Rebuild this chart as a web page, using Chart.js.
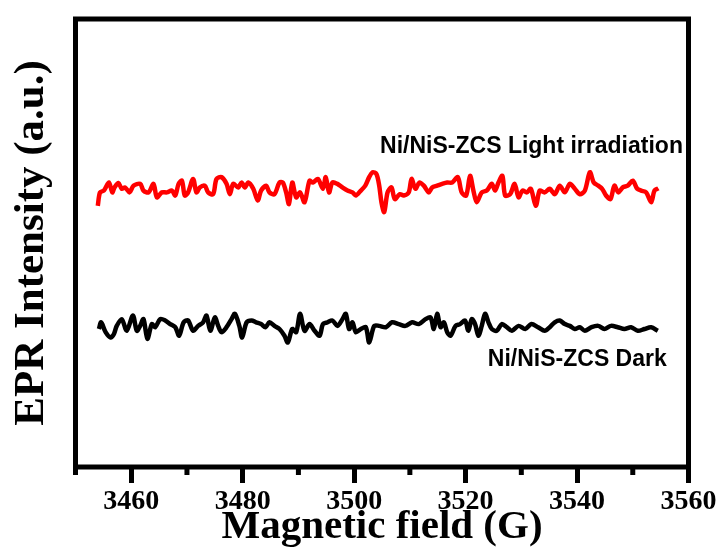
<!DOCTYPE html>
<html>
<head>
<meta charset="utf-8">
<script src="https://cdn.jsdelivr.net/npm/chart.js@4.4.1/dist/chart.umd.min.js"></script>
<style>
  html, body { margin: 0; padding: 0; background: #fff; }
  #wrap { width: 721px; height: 552px; }
</style>
</head>
<body>
<div id="wrap"><canvas id="epr"></canvas></div>
<script>
// x-as (G) en tick labels
const fieldMin = 3450;
const fieldMax = 3560;
const fieldStep = 10;

// rode lijn: Light irradiation
const lightField = [3454.0, 3454.4, 3455.1, 3456.0, 3456.6, 3457.0, 3457.7, 3458.3, 3458.9, 3459.7,
  3460.4, 3461.6, 3462.2, 3463.1, 3464.0, 3464.6, 3465.5, 3466.4, 3467.3, 3467.9,
  3468.5, 3469.1, 3469.6, 3470.2, 3471.1, 3471.7, 3472.3, 3473.2, 3473.8, 3474.7,
  3475.3, 3476.2, 3477.1, 3477.7, 3478.3, 3479.2, 3479.8, 3480.4, 3481.0, 3481.9,
  3482.7, 3483.3, 3484.2, 3484.8, 3485.7, 3486.6, 3487.2, 3487.8, 3488.3, 3488.9,
  3489.6, 3490.3, 3491.1, 3492.0, 3492.6, 3493.5, 3494.4, 3494.9, 3495.5, 3496.1,
  3497.0, 3497.9, 3498.8, 3499.7, 3500.3, 3501.2, 3502.0, 3502.7, 3503.3, 3504.0,
  3504.5, 3504.9, 3505.4, 3506.0, 3506.7, 3507.3, 3508.2, 3508.9, 3509.8, 3510.3,
  3511.0, 3511.7, 3512.5, 3513.4, 3514.0, 3514.9, 3515.8, 3516.7, 3517.6, 3518.6,
  3519.3, 3520.1, 3520.8, 3521.4, 3522.0, 3522.9, 3523.8, 3524.7, 3525.3, 3525.9,
  3526.6, 3527.1, 3528.0, 3528.8, 3529.5, 3530.2, 3531.0, 3531.7, 3532.6, 3533.3,
  3534.2, 3535.1, 3536.0, 3536.9, 3537.8, 3538.7, 3539.6, 3540.5, 3541.4, 3542.3,
  3543.0, 3543.8, 3544.5, 3545.2, 3546.0, 3546.7, 3547.4, 3548.2, 3549.1, 3550.0,
  3550.8, 3551.5, 3552.4, 3553.3, 3553.9, 3554.6];
const lightIntensity = [58.3, 61.3, 61.7, 63.5, 61.3, 62.4, 63.4, 62.1, 62.4, 61.3,
  62.8, 63.2, 61.7, 61.3, 63.2, 60.2, 61.3, 61.3, 61.7, 60.6,
  63.2, 63.9, 60.6, 61.3, 64.3, 61.3, 62.4, 62.8, 61.3, 60.9,
  64.3, 64.7, 63.2, 60.9, 63.2, 62.4, 63.5, 62.4, 63.5, 62.1,
  59.5, 61.7, 62.8, 61.3, 60.9, 63.5, 63.5, 61.3, 58.7, 63.5,
  60.2, 61.3, 59.1, 63.9, 63.5, 64.3, 62.1, 64.7, 61.3, 63.5,
  63.2, 62.4, 61.7, 61.3, 60.6, 61.7, 62.8, 64.7, 65.8, 65.4,
  62.8, 59.1, 56.9, 61.3, 62.4, 59.8, 60.9, 60.6, 61.3, 64.3,
  62.1, 63.5, 62.8, 61.3, 62.4, 62.8, 63.2, 63.5, 63.5, 64.7,
  61.3, 60.6, 65.0, 61.7, 59.1, 61.3, 61.7, 63.2, 61.7, 63.5,
  65.0, 60.6, 60.9, 63.2, 60.2, 61.7, 61.3, 62.1, 58.3, 61.7,
  61.3, 62.1, 60.9, 62.8, 61.3, 63.2, 62.1, 60.9, 61.7, 65.8,
  63.5, 62.8, 62.1, 60.6, 59.8, 62.8, 61.3, 62.4, 62.8, 63.9,
  62.1, 61.7, 61.3, 59.1, 61.7, 62.2];

// zwarte lijn: Dark
const darkField = [3454.2, 3454.6, 3455.4, 3456.3, 3456.9, 3457.4, 3458.3, 3459.2, 3460.3, 3461.0,
  3461.6, 3462.2, 3462.9, 3463.7, 3464.3, 3465.2, 3466.1, 3467.0, 3467.9, 3468.6,
  3469.4, 3470.2, 3471.1, 3472.0, 3472.9, 3473.5, 3474.2, 3475.0, 3475.6, 3476.2,
  3477.1, 3478.0, 3478.6, 3479.4, 3479.9, 3480.7, 3481.6, 3482.4, 3483.3, 3484.1,
  3484.8, 3485.7, 3486.6, 3487.5, 3488.1, 3488.9, 3489.6, 3490.3, 3491.1, 3492.0,
  3492.9, 3493.8, 3494.4, 3495.2, 3496.1, 3497.0, 3497.9, 3498.5, 3499.1, 3499.7,
  3500.3, 3501.2, 3502.1, 3502.7, 3503.6,
  3504.5, 3505.7, 3506.8, 3508.0, 3509.2, 3510.4, 3511.6, 3512.8, 3513.7, 3514.3,
  3514.9, 3515.5, 3516.1, 3516.7, 3517.3, 3518.2, 3519.0, 3519.9, 3520.5, 3521.1,
  3521.7, 3522.3, 3522.9, 3523.5, 3524.1, 3524.7, 3525.6, 3526.5, 3527.4, 3528.3,
  3529.5, 3530.7, 3531.8, 3533.0, 3534.2, 3535.1, 3536.0, 3536.9, 3537.8, 3538.7,
  3539.6, 3540.5, 3541.4, 3542.6, 3543.8, 3544.9, 3546.1, 3547.3, 3548.5, 3549.7,
  3550.9, 3552.1, 3553.3, 3554.5];
const darkIntensity = [30.8, 32.3, 30.1, 28.9, 29.7, 31.5, 33.0, 30.4, 33.8, 30.4,
  31.5, 33.0, 28.6, 31.9, 31.2, 33.0, 32.7, 31.9, 31.2, 29.3,
  32.3, 32.7, 30.4, 31.5, 32.3, 33.8, 30.4, 33.4, 31.5, 30.1,
  31.2, 33.0, 34.2, 31.5, 28.9, 32.3, 32.7, 32.3, 31.9, 31.2,
  32.3, 31.5, 30.8, 29.3, 27.8, 30.8, 30.1, 34.2, 30.4, 31.9,
  30.4, 29.3, 31.9, 32.3, 32.7, 31.5, 33.0, 34.2, 30.8, 32.3,
  30.1, 30.8, 31.2, 27.8, 31.5,
  31.5, 31.2, 32.3, 31.9, 31.5, 32.3, 31.9, 33.0, 33.4, 30.8,
  34.2, 31.2, 32.3, 30.1, 29.3, 31.5, 31.9, 32.7, 30.4, 33.0,
  31.9, 29.3, 31.5, 34.2, 32.3, 30.8, 30.4, 31.9, 31.2, 30.4,
  31.5, 30.8, 31.9, 31.2, 30.4, 31.2, 32.3, 32.7, 31.9, 31.5,
  30.8, 31.2, 30.4, 31.2, 31.5, 30.8, 31.5, 31.2, 30.8, 31.2,
  30.4, 30.8, 31.2, 30.4];

// tekstlabels bij de lijnen (rechts uitgelijnd, in data-eenheden)
const seriesLabels = ['Ni/NiS-ZCS Light irradiation', 'Ni/NiS-ZCS Dark'];
const labelField = [3559.0, 3556.1];
const labelIntensity = [71.4, 23.9];

function toPoints(xs, ys) {
  const pts = [];
  for (let i = 0; i < xs.length; i++) {
    pts.push({ x: xs[i], y: ys[i] });
  }
  return pts;
}

// kader, kleine ticks en de labels
const framePlugin = {
  id: 'frame',
  afterDatasetsDraw(chart) {
    const ctx = chart.ctx;
    const a = chart.chartArea;
    const xs = chart.scales.x;
    const ys = chart.scales.y;
    ctx.save();
    ctx.strokeStyle = '#000';
    ctx.lineWidth = 5;
    ctx.strokeRect(a.left, a.top, a.right - a.left, a.bottom - a.top);
    // kleine ticks op de oneven tientallen
    xs.ticks.forEach(t => {
      if (t.value % 20 !== 0) {
        const px = xs.getPixelForValue(t.value);
        ctx.beginPath();
        ctx.moveTo(px, a.bottom);
        ctx.lineTo(px, a.bottom + 8);
        ctx.stroke();
      }
    });
    ctx.fillStyle = '#000';
    ctx.font = 'bold 23px "Liberation Sans", Arial, sans-serif';
    ctx.textAlign = 'right';
    ctx.textBaseline = 'middle';
    for (let i = 0; i < seriesLabels.length; i++) {
      ctx.fillText(seriesLabels[i], xs.getPixelForValue(labelField[i]), ys.getPixelForValue(labelIntensity[i]));
    }
    ctx.restore();
  }
};

const serif = '"Liberation Serif", "Times New Roman", serif';

new Chart(document.getElementById('epr'), {
  type: 'line',
  data: {
    datasets: [
      {
        label: seriesLabels[0],
        data: toPoints(lightField, lightIntensity),
        borderColor: '#ff0000',
        borderWidth: 4.5,
        pointRadius: 0,
        tension: 0.3
      },
      {
        label: seriesLabels[1],
        data: toPoints(darkField, darkIntensity),
        borderColor: '#000000',
        borderWidth: 4.5,
        pointRadius: 0,
        tension: 0.3
      }
    ]
  },
  options: {
    responsive: true,
    maintainAspectRatio: false,
    animation: false,
    layout: { padding: { left: 0, top: 19, right: 32.5, bottom: 0 } },
    plugins: {
      legend: { display: false },
      tooltip: { enabled: false }
    },
    scales: {
      x: {
        type: 'linear',
        min: fieldMin,
        max: fieldMax,
        border: { display: false },
        grid: {
          drawOnChartArea: false,
          drawTicks: true,
          tickLength: 16,
          tickWidth: 5,
          tickColor: c => (c.tick && c.tick.value % 20 === 0) ? '#000' : 'rgba(0,0,0,0)'
        },
        ticks: {
          stepSize: fieldStep,
          autoSkip: false,
          maxRotation: 0,
          padding: 2,
          color: '#000',
          font: { family: serif, weight: 'bold', size: 28 },
          callback: v => (v % 20 === 0 && v > fieldMin) ? String(v) : ''
        },
        title: {
          display: true,
          text: 'Magnetic field (G)',
          color: '#000',
          font: { family: serif, weight: 'bold', size: 41 },
          padding: { top: 0, bottom: 0 }
        },
        afterFit: s => { s.height = 85; }
      },
      y: {
        min: 0,
        max: 100,
        border: { display: false },
        grid: { display: false, drawTicks: false },
        ticks: { display: false },
        title: {
          display: true,
          text: 'EPR Intensity (a.u.)',
          color: '#000',
          font: { family: serif, weight: 'bold', size: 43 },
          padding: { top: 6, bottom: 0 }
        },
        afterFit: s => { s.width = 75.5; }
      }
    }
  },
  plugins: [framePlugin]
});
</script>
</body>
</html>
